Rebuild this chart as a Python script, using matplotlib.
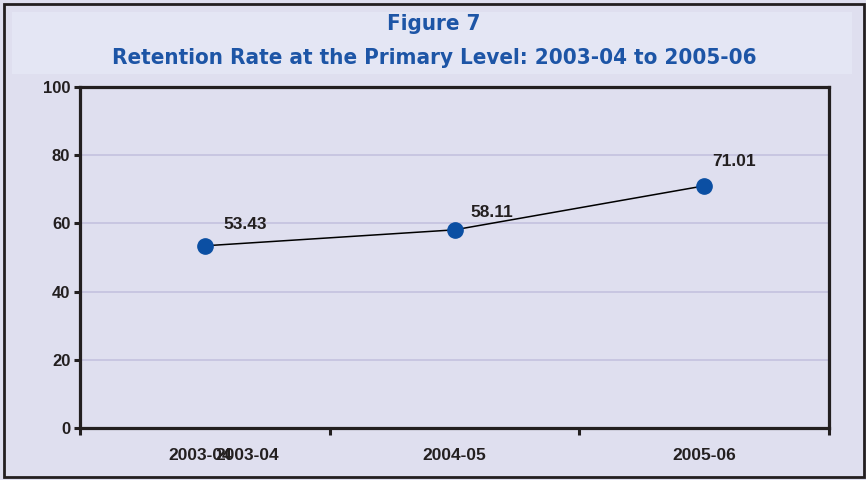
import matplotlib
matplotlib.use("Agg")
import matplotlib.pyplot as plt
from matplotlib.patches import Rectangle
import matplotlib.transforms as mtransforms

categories = ["2003-04", "2004-05", "2005-06"]
values = [53.43, 58.11, 71.01]
label_texts = ["53.43", "58.11", "71.01"]
yticks = [0, 20, 40, 60, 80, 100]
title1 = "Figure 7"
title2 = "Retention Rate at the Primary Level: 2003-04 to 2005-06"

BG = "#dfdfef"
TITLE_BG = "#e4e6f4"
TITLE_C = "#1d55a6"
MARK_C = "#0b4fa3"
TXT = "#231f20"
GRID = "#c6c4e0"

W, H, DPI = 866, 480, 100
fig = plt.figure(figsize=(W / DPI, H / DPI), dpi=DPI, facecolor=BG)

# title box
fig.patches.append(Rectangle((12 / W, 1 - 74 / H), (852 - 12) / W, (74 - 12) / H,
                             transform=fig.transFigure, facecolor=TITLE_BG,
                             edgecolor="none", zorder=0))
# outer border
fig.patches.append(Rectangle((4 / W, 3 / H), (864 - 4) / W, (476 - 3) / H,
                             transform=fig.transFigure, facecolor="none",
                             edgecolor="#231f20", linewidth=2.0, zorder=5))

fig.text(434 / W, 1 - 24 / H, title1, ha="center", va="center",
         fontsize=16, fontweight="bold", color=TITLE_C,
         family="DejaVu Sans", fontstretch="condensed")
fig.text(434 / W, 1 - 58 / H, title2, ha="center", va="center",
         fontsize=16, fontweight="bold", color=TITLE_C,
         family="DejaVu Sans", fontstretch="condensed")

ax = fig.add_axes([80 / W, 1 - 428 / H, (829 - 80) / W, (428 - 87) / H])
ax.set_facecolor(BG)
x = list(range(len(categories)))
ax.plot(x, values, color="black", linewidth=1.1, zorder=3,
        marker="o", markersize=11, markerfacecolor=MARK_C,
        markeredgecolor=MARK_C)

ax.set_xlim(-0.5, len(categories) - 0.5)
ax.set_ylim(0, 100)
ax.set_yticks(yticks)
ax.set_yticklabels([str(t) for t in yticks])
for t in yticks[1:-1]:
    ax.axhline(t, color=GRID, linewidth=1.3, zorder=1)

ax.set_xticks([i - 0.5 for i in range(len(categories) + 1)])
ax.set_xticklabels([])
ax.set_xticks(x, minor=True)
ax.set_xticklabels(categories, minor=True)
ax.tick_params(axis="x", which="major", direction="out", length=5, width=2.2,
               color=TXT)
ax.tick_params(axis="x", which="minor", length=0, pad=14.5,
               labelsize=12.5, labelcolor=TXT)
ax.tick_params(axis="y", direction="out", length=4, width=2.2, color=TXT,
               pad=3, labelsize=12, labelcolor=TXT)
for lab in ax.get_xticklabels(minor=True) + ax.get_yticklabels():
    lab.set_fontweight("bold")
    lab.set_family("Liberation Sans")

# first category label appears duplicated/overlapping in the reference
first = ax.get_xticklabels(minor=True)[0]
first.set_transform(first.get_transform() +
                    mtransforms.ScaledTranslation(-5 / DPI, 0, fig.dpi_scale_trans))
ax.annotate(categories[0], xy=(0, 0), xycoords=("data", "axes fraction"),
            xytext=(42, -27), textcoords="offset pixels", ha="center", va="center",
            fontsize=12.5, fontweight="bold", color=TXT, family="Liberation Sans",
            annotation_clip=False)

for s in ax.spines.values():
    s.set_linewidth(2.3)
    s.set_color(TXT)

offsets = [(40, 21), (37, 17), (30, 24)]
for xi, v, t, off in zip(x, values, label_texts, offsets):
    ax.annotate(t, xy=(xi, v), xytext=off, textcoords="offset pixels",
                ha="center", va="center", fontsize=12.5, fontweight="bold",
                color=TXT, family="Liberation Sans")

fig.savefig("out.png", dpi=DPI, facecolor=BG)
